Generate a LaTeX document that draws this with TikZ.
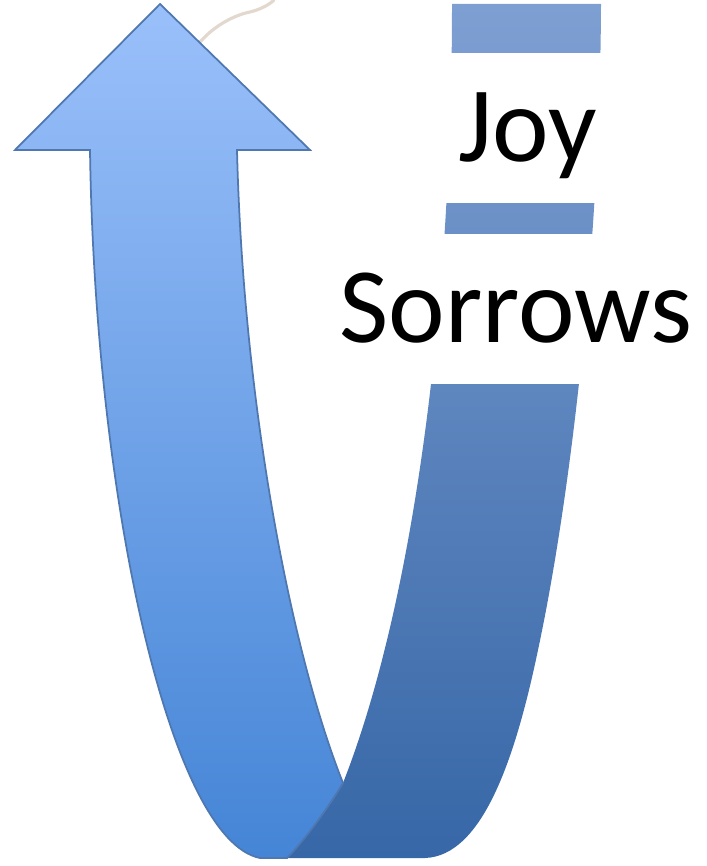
\documentclass[tikz,border=0pt]{standalone}
\usepackage{fontspec}
\setmainfont{Carlito}
\usepackage{tikz}
\usetikzlibrary{positioning}
\definecolor{RibLight}{HTML}{9AC0FA}
\definecolor{RibLightLow}{HTML}{4585D6}
\definecolor{RibDark}{HTML}{7E9FD2}
\definecolor{RibDarkLow}{HTML}{3767A7}
\definecolor{RibEdge}{HTML}{4F77B0}
\definecolor{Smudge}{HTML}{E2D8CE}

\begin{document}
\begin{tikzpicture}[x=0.1mm,y=-0.1mm,lbl/.style={fill=white,font=\fontsize{30.5pt}{36pt}\selectfont,text height=6.7mm,text depth=0pt,minimum height=15mm,inner xsep=1mm}]
\useasboundingbox (0,0) rectangle (706,866);
\draw[Smudge,line width=0.9pt,line cap=round] (200,42) .. controls (215,25) and (235,15) .. (250,12) .. controls (262,9) and (270,4) .. (274,0);
\shade[top color=RibDark,bottom color=RibDarkLow] (452,4) -- (601,4) .. controls (600,250) and (570,500) .. (538,650) .. controls (515,760) and (482,856) .. (425,858) -- (275,858) -- (343,783) .. controls (415,600) and (452,300) .. (452,4) -- cycle;
\shadedraw[top color=RibLight,bottom color=RibLightLow,draw=RibEdge,line width=0.5pt,line join=miter] (160,4) -- (310,150) -- (237,150) .. controls (243,400) and (290,650) .. (343,783) .. controls (330,805) and (305,840) .. (287,858) -- (260,858) .. controls (170,840) and (95,500) .. (90,150) -- (15,150) -- cycle;
\node[lbl,minimum width=17mm] (joy) at (528,128) {Joy};
\node[lbl,below=3mm of joy,xshift=-1.2mm] (sor) {Sorrows};
\end{tikzpicture}
\end{document}
